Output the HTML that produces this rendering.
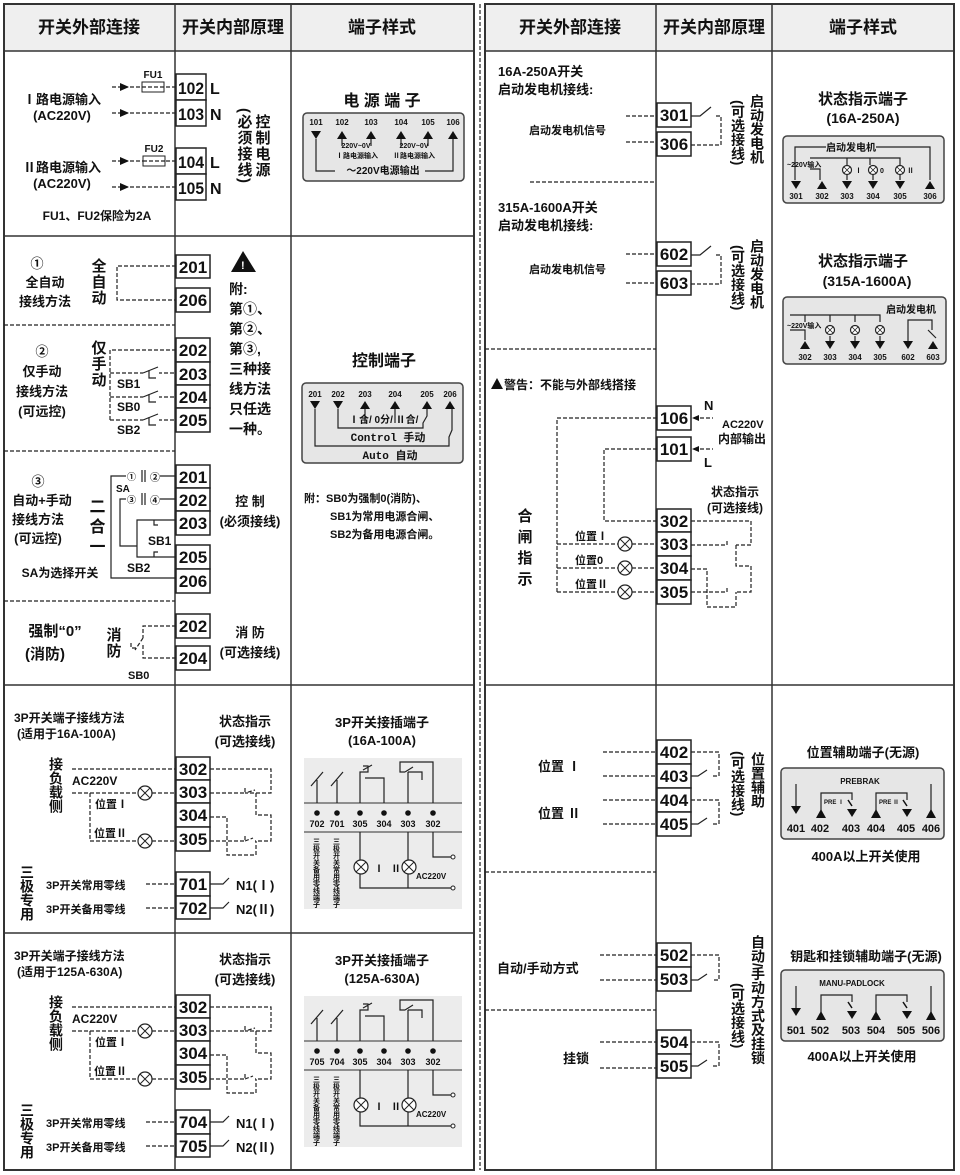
<!DOCTYPE html>
<html><head><meta charset="utf-8">
<style>
html,body{margin:0;padding:0;background:#fff;}
svg{display:block;}
text{font-family:"Liberation Sans","Noto Sans CJK SC",sans-serif;font-weight:bold;fill:#111;}
.h{font-size:16px;text-anchor:middle;}
.hh{font-size:17px;text-anchor:middle;}
.t{font-size:17px;text-anchor:middle;}
.l{font-size:13px;}
.m{font-size:13px;text-anchor:middle;}
.s{font-size:8px;text-anchor:middle;}
.v{writing-mode:vertical-rl;font-size:15px;letter-spacing:1px;}
.vs{writing-mode:vertical-rl;font-size:13px;}
.d{stroke:#222;stroke-width:1.2;fill:none;stroke-dasharray:4,2;}
.w{stroke:#222;stroke-width:1.2;fill:none;}
.b{stroke:#222;stroke-width:1.5;fill:#fff;}
.pn{fill:#e6e6e6;stroke:#444;stroke-width:1.5;}
.lp{fill:#fff;stroke:#222;stroke-width:1.2;}
</style></head><body>
<svg width="960" height="1175" viewBox="0 0 960 1175" xmlns="http://www.w3.org/2000/svg">
<defs>
<g id="lamp"><circle r="7" class="lp"/><path d="M-5,-5L5,5M5,-5L-5,5" stroke="#222" stroke-width="1"/></g>
<g id="lampS"><circle r="4.5" class="lp"/><path d="M-3,-3L3,3M3,-3L-3,3" stroke="#222" stroke-width="0.8"/></g>
<path id="dn" d="M-5,-4L5,-4L0,4Z" fill="#111"/>
<path id="up" d="M-5,4L5,4L0,-4Z" fill="#111"/>
</defs>

<rect x="4" y="4" width="470" height="47" fill="#efefef"/>
<rect x="485" y="4" width="469" height="47" fill="#efefef"/>
<rect x="4" y="4" width="470" height="1166" fill="none" stroke="#333" stroke-width="2"/>
<path d="M175,4V1170M291,4V1170M4,51H474M4,236H474M4,685H474M4,933H474" stroke="#333" stroke-width="1.5"/>
<path d="M4,325H175M4,451H175M4,601H175" class="d" stroke-width="1.5"/>
<rect x="485" y="4" width="469" height="1166" fill="none" stroke="#333" stroke-width="2"/>
<path d="M656,4V1170M772,4V1170M485,51H954M485,685H954" stroke="#333" stroke-width="1.5"/>
<path d="M530,182H656M485,349H656M485,872H656M485,1010H656" class="d" stroke-width="1.5"/>
<path d="M480,4V1170" class="d" stroke-width="1"/>

<text class="hh" x="89" y="33">开关外部连接</text>
<text class="hh" x="233" y="33">开关内部原理</text>
<text class="hh" x="382" y="33">端子样式</text>
<text class="hh" x="570" y="33">开关外部连接</text>
<text class="hh" x="714" y="33">开关内部原理</text>
<text class="hh" x="863" y="33">端子样式</text>

<text class="m" x="62" y="104">Ⅰ路电源输入</text>
<text class="m" x="62" y="120">(AC220V)</text>
<text class="m" x="62" y="172">Ⅱ路电源输入</text>
<text class="m" x="62" y="188">(AC220V)</text>
<text class="m" x="97" y="220" style="font-size:12px">FU1、FU2保险为2A</text>
<path d="M112,87H176M112,113H176M112,161H176M112,187H176" class="d"/>
<path d="M120,83L129,87L120,91ZM120,109L129,113L120,117ZM120,157L129,161L120,165ZM120,183L129,187L120,191Z" fill="#111"/>
<rect x="142" y="82" width="22" height="10" fill="#fff" stroke="#222"/>
<rect x="143" y="156" width="22" height="10" fill="#fff" stroke="#222"/>
<path d="M142,87H164M143,161H165" class="d"/>
<text class="m" x="153" y="78" style="font-size:10px">FU1</text>
<text class="m" x="154" y="152" style="font-size:10px">FU2</text>
<rect class="b" x="176" y="74" width="30" height="26"/><text class="t" x="191" y="94" textLength="26" lengthAdjust="spacingAndGlyphs">102</text>
<rect class="b" x="176" y="100" width="30" height="26"/><text class="t" x="191" y="120" textLength="26" lengthAdjust="spacingAndGlyphs">103</text>
<rect class="b" x="176" y="148" width="30" height="26"/><text class="t" x="191" y="168" textLength="26" lengthAdjust="spacingAndGlyphs">104</text>
<rect class="b" x="176" y="174" width="30" height="26"/><text class="t" x="191" y="194" textLength="26" lengthAdjust="spacingAndGlyphs">105</text>
<text x="210" y="94" style="font-size:16px">L</text><text x="210" y="120" style="font-size:16px">N</text>
<text x="210" y="168" style="font-size:16px">L</text><text x="210" y="194" style="font-size:16px">N</text>
<text class="v" x="262" y="114">控制电源</text>
<text class="v" x="244" y="108">(必须接线)</text>
<text class="h" x="382" y="106">电 源 端 子</text>
<rect class="pn" x="303" y="113" width="161" height="68" rx="4"/>
<g class="s" style="font-size:8px"><text x="316" y="125">101</text><text x="342" y="125">102</text><text x="371" y="125">103</text><text x="401" y="125">104</text><text x="428" y="125">105</text><text x="453" y="125">106</text></g>
<use href="#dn" x="316" y="135"/><use href="#up" x="342" y="135"/><use href="#up" x="371" y="135"/><use href="#up" x="401" y="135"/><use href="#up" x="428" y="135"/><use href="#up" x="453" y="135"/>
<path d="M342,139V146M371,139V146M401,139V146M428,139V146M316,139V171H335M425,171H453V139" class="w" stroke-width="1"/>
<text class="s" x="356" y="148" style="font-size:7px">220V~0V</text><text class="s" x="414" y="148" style="font-size:7px">220V~0V</text>
<text class="s" x="357" y="158" style="font-size:7px">Ⅰ路电源输入</text><text class="s" x="414" y="158" style="font-size:7px">Ⅱ路电源输入</text>
<text class="s" x="383" y="174" style="font-size:10px">～220V电源输出</text>

<text class="m" x="37" y="268">①</text>
<text class="m" x="45" y="287">全自动</text>
<text class="m" x="45" y="306">接线方法</text>
<text class="v" x="98" y="258">全自动</text>
<path d="M176,266H117V300H176" class="d"/>
<rect class="b" x="176" y="255" width="34" height="23"/><text class="t" x="193" y="273">201</text>
<rect class="b" x="176" y="288" width="34" height="24"/><text class="t" x="193" y="306">206</text>
<path d="M231,272L243,251L256,272Z" fill="#111"/><text x="241" y="269" style="font-size:11px;fill:#fff">!</text>
<g style="font-size:14px"><text x="229" y="294">附:</text><text x="229" y="314">第①、</text><text x="229" y="334">第②、</text><text x="229" y="354">第③,</text><text x="229" y="374">三种接</text><text x="229" y="394">线方法</text><text x="229" y="414">只任选</text><text x="229" y="434">一种。</text></g>

<text class="m" x="42" y="356">②</text>
<text class="m" x="42" y="376">仅手动</text>
<text class="m" x="42" y="396">接线方法</text>
<text class="m" x="42" y="416">(可远控)</text>
<text class="v" x="98" y="340">仅手动</text>
<path d="M176,350H110V421M110,373H176M110,397H176M110,420H176" class="d"/>
<rect class="b" x="176" y="338" width="34" height="24"/><text class="t" x="193" y="356">202</text>
<rect class="b" x="176" y="362" width="34" height="23"/><text class="t" x="193" y="380">203</text>
<rect class="b" x="176" y="385" width="34" height="23"/><text class="t" x="193" y="403">204</text>
<rect class="b" x="176" y="408" width="34" height="24"/><text class="t" x="193" y="426">205</text>
<rect x="143" y="369" width="16" height="8" fill="#fff"/><rect x="143" y="393" width="16" height="8" fill="#fff"/><rect x="143" y="416" width="16" height="8" fill="#fff"/>
<path d="M143,373L158,367M143,397L158,391M143,420L158,414M149,370V378H156M149,394V402H156M149,417V425H156" class="w" stroke-width="1"/>
<text x="117" y="388" style="font-size:12px">SB1</text><text x="117" y="411" style="font-size:12px">SB0</text><text x="117" y="434" style="font-size:12px">SB2</text>

<text class="m" x="38" y="486">③</text>
<text class="m" x="42" y="505">自动+手动</text>
<text class="m" x="38" y="524">接线方法</text>
<text class="m" x="38" y="543">(可远控)</text>
<text class="m" x="60" y="577" style="font-size:12px">SA为选择开关</text>
<text class="v" x="95" y="498" style="font-size:16px;letter-spacing:4px">二合一</text>
<rect class="b" x="176" y="465" width="34" height="23"/><text class="t" x="193" y="483">201</text>
<rect class="b" x="176" y="488" width="34" height="23"/><text class="t" x="193" y="506">202</text>
<rect class="b" x="176" y="511" width="34" height="24"/><text class="t" x="193" y="529">203</text>
<rect class="b" x="176" y="545" width="34" height="24"/><text class="t" x="193" y="563">205</text>
<rect class="b" x="176" y="569" width="34" height="24"/><text class="t" x="193" y="587">206</text>
<path d="M176,476H160M176,499H160M176,520H137V546M176,557H137V533M176,578H111V476H126M126,499H120V546H137" class="w" stroke-width="1"/>
<path d="M154,520V525H158M154,557V552H158" class="w" stroke-width="1"/>
<text x="127" y="480" style="font-size:9px">①</text><text x="150" y="481" style="font-size:10px">②</text>
<text x="127" y="503" style="font-size:9px">③</text><text x="150" y="504" style="font-size:10px">④</text>
<path d="M142,470V482M145,470V482M142,493V505M145,493V505" class="w"/>
<text x="116" y="492" style="font-size:10px">SA</text>
<text x="148" y="545" style="font-size:12px">SB1</text><text x="127" y="572" style="font-size:12px">SB2</text>

<text class="m" x="250" y="506">控  制</text>
<text class="m" x="250" y="526">(必须接线)</text>

<text class="m" x="55" y="636" style="font-size:15px">强制“0”</text>
<text class="m" x="45" y="659" style="font-size:15px">(消防)</text>
<text class="v" x="113" y="627">消防</text>
<path d="M176,626H143V638M176,658H143V645M143,638L135,650M131,643V648H136" class="d"/>
<text x="128" y="679" style="font-size:11px">SB0</text>
<rect class="b" x="176" y="614" width="34" height="24"/><text class="t" x="193" y="632">202</text>
<rect class="b" x="176" y="646" width="34" height="24"/><text class="t" x="193" y="664">204</text>
<text class="m" x="250" y="637">消  防</text>
<text class="m" x="250" y="657">(可选接线)</text>

<text class="h" x="384" y="366">控制端子</text>
<rect class="pn" x="302" y="383" width="161" height="80" rx="4"/>
<g class="s"><text x="315" y="397">201</text><text x="338" y="397">202</text><text x="365" y="397">203</text><text x="395" y="397">204</text><text x="427" y="397">205</text><text x="450" y="397">206</text></g>
<use href="#dn" x="315" y="405"/><use href="#dn" x="338" y="405"/><use href="#up" x="365" y="405"/><use href="#up" x="395" y="405"/><use href="#up" x="427" y="405"/><use href="#up" x="450" y="405"/>
<path d="M315,409V446H449V437L452,430V409M338,409V428H423V423L427,416V409M365,409V423M395,409V423" class="w" stroke-width="1"/>
<text x="349" y="423" style="font-size:10px">Ⅰ合/ 0分/ Ⅱ合/</text>
<text class="s" x="388" y="441" style="font-size:11px;font-family:'Liberation Mono','Noto Sans CJK SC',monospace">Control 手动</text>
<text class="s" x="390" y="459" style="font-size:11px;font-family:'Liberation Mono','Noto Sans CJK SC',monospace">Auto 自动</text>
<g style="font-size:11px"><text x="304" y="502">附：SB0为强制0(消防)、</text><text x="330" y="520">SB1为常用电源合闸、</text><text x="330" y="538">SB2为备用电源合闸。</text></g>

<g id="p3">
<text x="14" y="722" style="font-size:12px">3P开关端子接线方法</text>
<text class="m" x="245" y="726">状态指示</text>
<text class="m" x="245" y="746">(可选接线)</text>
<text class="v" x="56" y="757" style="font-size:14px;letter-spacing:0">接负载侧</text>
<text x="72" y="785" style="font-size:12px">AC220V</text>
<text x="95" y="808" style="font-size:11px">位置Ⅰ</text>
<text x="94" y="837" style="font-size:11px">位置Ⅱ</text>
<path d="M72,769H176M72,793H138M152,793H176M90,793V841H138M152,841H176" class="d"/>
<use href="#lamp" x="145" y="793"/><use href="#lamp" x="145" y="841"/>
<rect class="b" x="176" y="757" width="34" height="23"/><text class="t" x="193" y="775">302</text>
<rect class="b" x="176" y="780" width="34" height="23"/><text class="t" x="193" y="798">303</text>
<rect class="b" x="176" y="803" width="34" height="24"/><text class="t" x="193" y="821">304</text>
<rect class="b" x="176" y="827" width="34" height="24"/><text class="t" x="193" y="845">305</text>
<path d="M210,769H271V793H245L255,790M210,793H245V787M256,793V815H271V841H255M210,817H227V855H256V841M210,841H245V835M245,841L253,838" class="d"/>
<text class="v" x="27" y="865" style="font-size:14px;letter-spacing:0">三极专用</text>
<text x="46" y="889" style="font-size:11px">3P开关常用零线</text>
<text x="46" y="913" style="font-size:11px">3P开关备用零线</text>
<path d="M146,884H176M146,908H176" class="d"/>
<path d="M210,884H223L229,878M210,908H223L229,902" class="w"/>
<text x="236" y="890" style="font-size:13px">N1(Ⅰ)</text>
<text x="236" y="914" style="font-size:13px">N2(Ⅱ)</text>
<text class="m" x="382" y="727">3P开关接插端子</text>
<rect x="304" y="758" width="158" height="151" fill="#ececec"/>
<path d="M304,803H462M304,832H462" stroke="#555" stroke-width="1.2"/>
<g fill="#111"><circle cx="317" cy="813" r="2.8"/><circle cx="337" cy="813" r="2.8"/><circle cx="360" cy="813" r="2.8"/><circle cx="384" cy="813" r="2.8"/><circle cx="408" cy="813" r="2.8"/><circle cx="433" cy="813" r="2.8"/></g>
<path d="M317,803V780M311,786L323,772M337,803V780M331,786L343,772M360,803V772H368V766H363M363,770L372,765M384,803V778H365M433,803V762H400V772H405M408,803V772M405,772L413,767M408,772H422V780" class="w" stroke-width="1"/>
<path d="M360,832V860M360,874V888H452M408,832V860M408,874V888M433,832V857H452" class="w" stroke-width="1"/>
<circle cx="453" cy="857" r="2" fill="#fff" stroke="#222"/><circle cx="453" cy="888" r="2" fill="#fff" stroke="#222"/>
<use href="#lamp" x="361" y="867"/><use href="#lamp" x="409" y="867"/>
<text x="374" y="872" style="font-size:10px">Ⅰ</text><text x="391" y="872" style="font-size:10px">Ⅱ</text>
<text x="416" y="879" style="font-size:8px">AC220V</text>
</g>
<text class="s" x="317" y="827" style="font-size:9px">702</text><text class="s" x="337" y="827" style="font-size:9px">701</text>
<g class="s" style="font-size:9px"><text x="360" y="827">305</text><text x="384" y="827">304</text><text x="408" y="827">303</text><text x="433" y="827">302</text></g>
<text class="vs" x="316" y="838" style="font-size:7px">三极开关备用零线端子</text>
<text class="vs" x="336" y="838" style="font-size:7px">三极开关常用零线端子</text>
<text x="17" y="738" style="font-size:12px">(适用于16A-100A)</text>
<rect class="b" x="176" y="872" width="34" height="24"/><text class="t" x="193" y="890">701</text>
<rect class="b" x="176" y="896" width="34" height="23"/><text class="t" x="193" y="914">702</text>
<text class="m" x="382" y="745">(16A-100A)</text>

<use href="#p3" y="238"/>
<text class="s" x="317" y="1065" style="font-size:9px">705</text><text class="s" x="337" y="1065" style="font-size:9px">704</text>
<g class="s" style="font-size:9px"><text x="360" y="1065">305</text><text x="384" y="1065">304</text><text x="408" y="1065">303</text><text x="433" y="1065">302</text></g>
<text class="vs" x="316" y="1076" style="font-size:7px">三极开关备用零线端子</text>
<text class="vs" x="336" y="1076" style="font-size:7px">三极开关常用零线端子</text>
<text x="17" y="976" style="font-size:12px">(适用于125A-630A)</text>
<rect class="b" x="176" y="1110" width="34" height="24"/><text class="t" x="193" y="1128">704</text>
<rect class="b" x="176" y="1134" width="34" height="23"/><text class="t" x="193" y="1152">705</text>
<text class="m" x="382" y="983">(125A-630A)</text>

<text x="498" y="76" style="font-size:13px">16A-250A开关</text>
<text x="498" y="94" style="font-size:13px">启动发电机接线:</text>
<text x="529" y="134" style="font-size:11px">启动发电机信号</text>
<path d="M626,116H657M626,142H657M691,145H721V116H715" class="d"/>
<path d="M691,116H700L711,107" class="w"/>
<rect class="b" x="657" y="103" width="34" height="24"/><text class="t" x="674" y="121">301</text>
<rect class="b" x="657" y="132" width="34" height="24"/><text class="t" x="674" y="150">306</text>
<text class="v" x="757" y="94" style="font-size:14px;letter-spacing:0">启动发电机</text>
<text class="v" x="738" y="100" style="font-size:14px;letter-spacing:0">(可选接线)</text>
<text x="498" y="212" style="font-size:13px">315A-1600A开关</text>
<text x="498" y="230" style="font-size:13px">启动发电机接线:</text>
<text x="529" y="273" style="font-size:11px">启动发电机信号</text>
<path d="M626,254H657M626,283H657M691,284H721V255H715" class="d"/>
<path d="M691,255H700L711,246" class="w"/>
<rect class="b" x="657" y="242" width="34" height="24"/><text class="t" x="674" y="260">602</text>
<rect class="b" x="657" y="271" width="34" height="24"/><text class="t" x="674" y="289">603</text>
<text class="v" x="757" y="239" style="font-size:14px;letter-spacing:0">启动发电机</text>
<text class="v" x="738" y="245" style="font-size:14px;letter-spacing:0">(可选接线)</text>

<text class="h" x="863" y="104" style="font-size:15px">状态指示端子</text>
<text class="h" x="863" y="123" style="font-size:14px">(16A-250A)</text>
<rect class="pn" x="783" y="136" width="161" height="67" rx="4"/>
<path d="M795,180V147H826M876,147H930V180M810,158H900V165M810,169H820V180M870,158V165M810,158" class="w" stroke-width="1"/>
<text class="s" x="851" y="151" style="font-size:10px">启动发电机</text>
<text x="787" y="167" style="font-size:7px">~220V输入</text>
<use href="#lampS" x="847" y="170"/><use href="#lampS" x="873" y="170"/><use href="#lampS" x="900" y="170"/>
<path d="M847,158V165M847,175V180M873,175V180M900,175V180" class="w" stroke-width="1"/>
<text x="855" y="173" style="font-size:7px">Ⅰ</text><text x="880" y="173" style="font-size:7px">0</text><text x="907" y="173" style="font-size:7px">Ⅱ</text>
<use href="#dn" x="796" y="185"/><use href="#up" x="822" y="185"/><use href="#dn" x="847" y="185"/><use href="#dn" x="873" y="185"/><use href="#dn" x="900" y="185"/><use href="#up" x="930" y="185"/>
<g class="s" style="font-size:8px"><text x="796" y="199">301</text><text x="822" y="199">302</text><text x="847" y="199">303</text><text x="873" y="199">304</text><text x="900" y="199">305</text><text x="930" y="199">306</text></g>

<text class="h" x="863" y="266" style="font-size:15px">状态指示端子</text>
<text class="h" x="867" y="286" style="font-size:14px">(315A-1600A)</text>
<rect class="pn" x="783" y="297" width="163" height="67" rx="4"/>
<text x="886" y="313" style="font-size:10px">启动发电机</text>
<path d="M790,315H880V322M790,330H805V340M805,315V322M830,315V322M855,315V322M830,336V341M855,336V341M880,336V341M908,341V320H932V330M928,330L936,338" class="w" stroke-width="1"/>
<text x="787" y="328" style="font-size:7px">~220V输入</text>
<use href="#lampS" x="830" y="330"/><use href="#lampS" x="855" y="330"/><use href="#lampS" x="880" y="330"/>
<use href="#up" x="805" y="345"/><use href="#dn" x="830" y="345"/><use href="#dn" x="855" y="345"/><use href="#dn" x="880" y="345"/><use href="#dn" x="908" y="345"/><use href="#up" x="933" y="345"/>
<g class="s" style="font-size:8px"><text x="805" y="360">302</text><text x="830" y="360">303</text><text x="855" y="360">304</text><text x="880" y="360">305</text><text x="908" y="360">602</text><text x="933" y="360">603</text></g>

<path d="M491,389L497,378L503,389Z" fill="#111"/>
<text x="504" y="389" style="font-size:12px">警告：不能与外部线搭接</text>
<rect class="b" x="657" y="406" width="34" height="24"/><text class="t" x="674" y="424">106</text>
<rect class="b" x="657" y="437" width="34" height="24"/><text class="t" x="674" y="455">101</text>
<path d="M694,418H713M694,449H713" class="d"/>
<path d="M692,418L699,415V421ZM692,449L699,446V452Z" fill="#111"/>
<text x="704" y="410" style="font-size:13px">N</text><text x="704" y="467" style="font-size:13px">L</text>
<text x="722" y="428" style="font-size:11px">AC220V</text><text x="718" y="443" style="font-size:12px">内部输出</text>
<path d="M657,418H557V593M657,449H604V521H657M557,544H618M632,544H657M557,568H618M632,568H657M557,592H618M632,592H657" class="d"/>
<use href="#lamp" x="625" y="544"/><use href="#lamp" x="625" y="568"/><use href="#lamp" x="625" y="592"/>
<text x="575" y="540" style="font-size:11px">位置Ⅰ</text><text x="575" y="564" style="font-size:11px">位置0</text><text x="575" y="588" style="font-size:11px">位置Ⅱ</text>
<text class="v" x="524" y="508" style="font-size:15px;letter-spacing:6px">合闸指示</text>
<text class="m" x="735" y="496" style="font-size:12px">状态指示</text>
<text class="m" x="735" y="512" style="font-size:12px">(可选接线)</text>
<rect class="b" x="657" y="509" width="34" height="23"/><text class="t" x="674" y="527">302</text>
<rect class="b" x="657" y="532" width="34" height="24"/><text class="t" x="674" y="550">303</text>
<rect class="b" x="657" y="556" width="34" height="24"/><text class="t" x="674" y="574">304</text>
<rect class="b" x="657" y="580" width="34" height="24"/><text class="t" x="674" y="598">305</text>
<path d="M691,521H751V545H736M691,545H727V539M736,545V566H751V592H736M691,569H707V607H736V592M691,592H727V586" class="d"/>

<text x="538" y="771" style="font-size:13px">位置  Ⅰ</text>
<text x="538" y="818" style="font-size:13px">位置  Ⅱ</text>
<path d="M603,752H657M603,776H657M603,800H657M603,824H657M691,752H719V776H712M691,800H719V824H712" class="d"/>
<path d="M691,776H698L707,770M691,824H698L707,818" class="w"/>
<rect class="b" x="657" y="740" width="34" height="24"/><text class="t" x="674" y="758">402</text>
<rect class="b" x="657" y="764" width="34" height="24"/><text class="t" x="674" y="782">403</text>
<rect class="b" x="657" y="788" width="34" height="24"/><text class="t" x="674" y="806">404</text>
<rect class="b" x="657" y="812" width="34" height="24"/><text class="t" x="674" y="830">405</text>
<text class="v" x="758" y="752" style="font-size:14px;letter-spacing:0">位置辅助</text>
<text class="v" x="738" y="751" style="font-size:14px;letter-spacing:0">(可选接线)</text>
<text class="h" x="863" y="757" style="font-size:13px">位置辅助端子(无源)</text>
<rect class="pn" x="781" y="768" width="163" height="71" rx="4"/>
<text class="s" x="860" y="784" style="font-size:8px">PREBRAK</text>
<g id="aux">
<path d="M796,784V807M821,810V793H852V800M876,810V793H907V800M931,812V784" class="w" stroke-width="1.5"/>
<path d="M791,806H801L796,814Z M816,818H826L821,809Z M871,818H881L876,809Z M926,818H936L931,809Z M847,809H857L852,817Z M902,809H912L907,817Z" fill="#111"/>
<path d="M848,800L852,806M903,800L907,806" stroke="#111" stroke-width="1.5"/>
</g>
<text x="824" y="804" style="font-size:6px">PRE Ⅰ</text><text x="879" y="804" style="font-size:6px">PRE Ⅱ</text>
<g class="s" style="font-size:11px;font-weight:normal"><text x="796" y="832">401</text><text x="820" y="832">402</text><text x="851" y="832">403</text><text x="876" y="832">404</text><text x="906" y="832">405</text><text x="931" y="832">406</text></g>
<text class="m" x="866" y="861">400A以上开关使用</text>

<text x="497" y="973" style="font-size:13px">自动/手动方式</text>
<text x="563" y="1063" style="font-size:13px">挂锁</text>
<path d="M600,955H657M600,980H657M600,1042H657M600,1068H657M691,955H719V980H712M691,1042H719V1066H712" class="d"/>
<path d="M691,980H698L707,974M691,1066H698L707,1060" class="w"/>
<rect class="b" x="657" y="943" width="34" height="24"/><text class="t" x="674" y="961">502</text>
<rect class="b" x="657" y="967" width="34" height="24"/><text class="t" x="674" y="985">503</text>
<rect class="b" x="657" y="1030" width="34" height="24"/><text class="t" x="674" y="1048">504</text>
<rect class="b" x="657" y="1054" width="34" height="24"/><text class="t" x="674" y="1072">505</text>
<text class="v" x="758" y="935" style="font-size:14px;letter-spacing:0">自动/手动方式及挂锁</text>
<text class="v" x="738" y="983" style="font-size:14px;letter-spacing:0">(可选接线)</text>
<text class="h" x="866" y="961" style="font-size:13px">钥匙和挂锁辅助端子(无源)</text>
<rect class="pn" x="781" y="970" width="163" height="71" rx="4"/>
<text class="s" x="852" y="986" style="font-size:8px">MANU-PADLOCK</text>
<use href="#aux" y="202"/>
<g class="s" style="font-size:11px;font-weight:normal"><text x="796" y="1034">501</text><text x="820" y="1034">502</text><text x="851" y="1034">503</text><text x="876" y="1034">504</text><text x="906" y="1034">505</text><text x="931" y="1034">506</text></g>
<text class="m" x="862" y="1061">400A以上开关使用</text>
</svg>
</body></html>
